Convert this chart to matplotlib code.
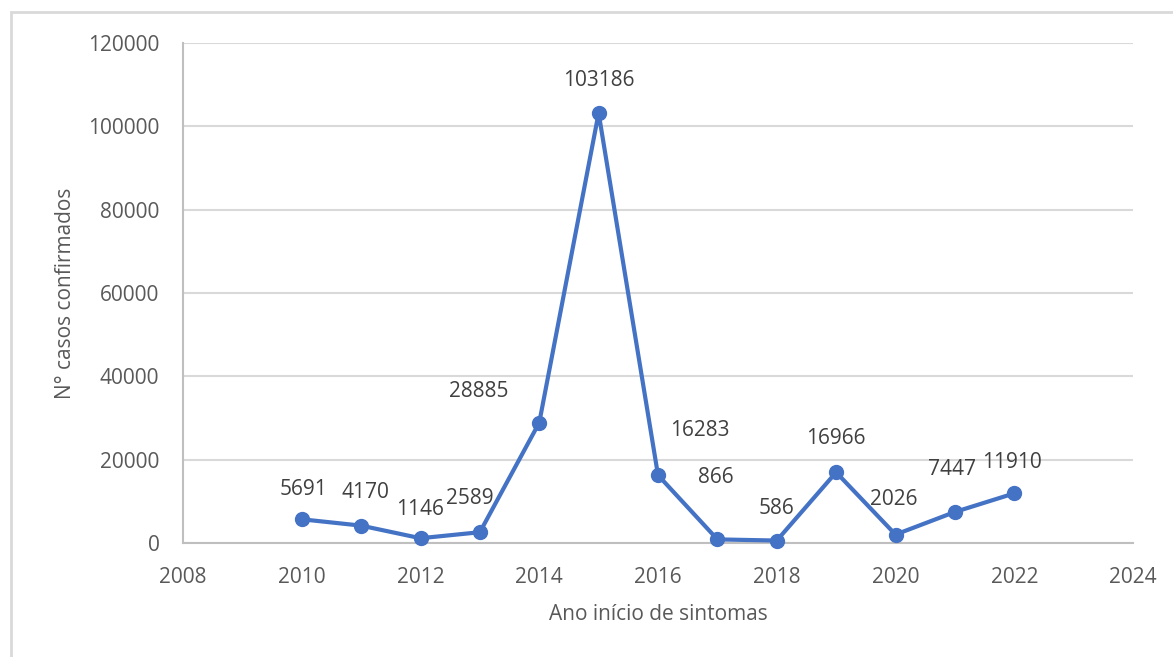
import matplotlib.pyplot as plt
from matplotlib.patches import Rectangle

# dados: casos confirmados por ano de início de sintomas
anos = [2010, 2011, 2012, 2013, 2014, 2015, 2016, 2017, 2018, 2019, 2020, 2021, 2022]
casos = [5691, 4170, 1146, 2589, 28885, 103186, 16283, 866, 586, 16966, 2026, 7447, 11910]
x_ticks = [2008, 2010, 2012, 2014, 2016, 2018, 2020, 2022, 2024]
y_ticks = [0, 20000, 40000, 60000, 80000, 100000, 120000]

# deslocamento dos rótulos (pixels)
offsets = [(2, 30), (4, 33), (0, 29), (-10, 34), (-60, 31), (0, 33), (42, 45),
           (-2, 62), (0, 32), (0, 34), (-2, 35), (-3, 42), (-2, 31)]

plt.rcParams['font.family'] = ['Open Sans', 'DejaVu Sans']
cinza = '#595959'
azul = '#4472C4'
fs = 15

fig = plt.figure(figsize=(11.73, 6.57), dpi=100)
ax = fig.add_axes([183 / 1173, 1 - 543 / 657, (1133 - 183) / 1173, (543 - 43) / 657])

ax.plot(anos, casos, color=azul, lw=3, marker='o', ms=10, zorder=3, clip_on=False)

for a, c, (dx, dy) in zip(anos, casos, offsets):
    ax.annotate(str(c), (a, c), xytext=(dx * 0.72, dy * 0.72), textcoords='offset points',
                ha='center', va='center', fontsize=fs, color='#404040')

ax.set_xlim(2008, 2024)
ax.set_ylim(0, 120000)
ax.set_xticks(x_ticks)
ax.set_yticks(y_ticks)
ax.tick_params(length=0, labelsize=fs, colors=cinza)
ax.tick_params(axis='y', pad=17)
ax.tick_params(axis='x', pad=17)
ax.grid(axis='y', color='#d9d9d9', lw=1.5)
ax.set_axisbelow(True)

for s in ['top', 'right']:
    ax.spines[s].set_visible(False)
for s in ['left', 'bottom']:
    ax.spines[s].set_color('#bfbfbf')
    ax.spines[s].set_linewidth(1.5)

ax.set_xlabel('Ano início de sintomas', fontsize=fs, color=cinza, labelpad=12)
ax.set_ylabel('N° casos confirmados', fontsize=fs, color=cinza, labelpad=9)

# moldura do gráfico
fig.add_artist(Rectangle((11 / 1173, -0.1), 2, (657 - 12) / 657 + 0.1,
                         transform=fig.transFigure, fill=False,
                         edgecolor='#d9d9d9', lw=2))

fig.savefig('out.png', dpi=100)
